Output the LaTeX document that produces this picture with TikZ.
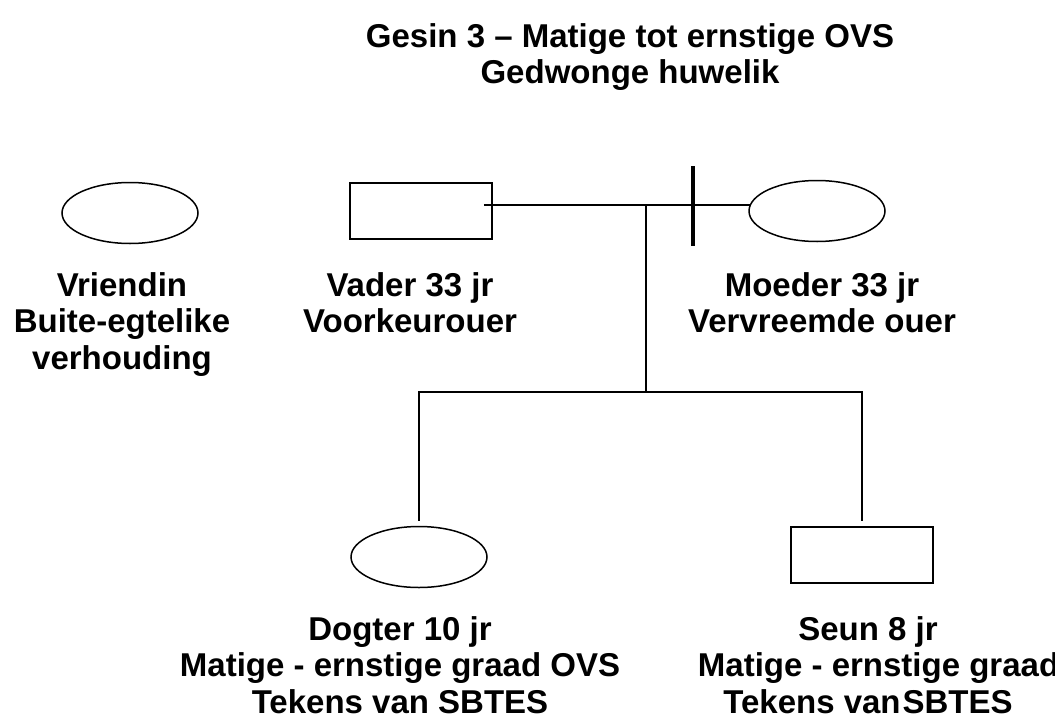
\documentclass[tikz,border=0pt]{standalone}
\usepackage{fontspec}
\setmainfont{Liberation Sans}
\usetikzlibrary{positioning,shapes.geometric}

\begin{document}
\begin{tikzpicture}[
  x=1pt, y=-1pt,
  every node/.style={font=\bfseries\fontsize{33}{36.5}\selectfont, align=center, inner sep=0pt},
  female/.style={draw, line width=1.5pt, ellipse, minimum width=136pt, minimum height=61pt},
  male/.style={draw, line width=1.5pt, rectangle, minimum width=142pt, minimum height=56pt},
  tie/.style={draw, line width=1.5pt},
  split/.style={draw, line width=4pt}
]
\clip (0,0) rectangle (1055,720);
\node[anchor=north] (title) at (630,23)
  {Gesin 3 – Matige tot ernstige OVS\\Gedwonge huwelik};
\node[female] (vriendin) at (130,213) {};
\node[male] (vader) at (421,211) {};
\node[female] (moeder) at (817,211) {};
\node[female] (dogter) at (419,557) {};
\node[male] (seun) at (862,555) {};
\node[anchor=north] (vriendinlbl) at (122,272) {Vriendin\\Buite-egtelike\\verhouding};
\node[anchor=north] (vaderlbl) at (410,272) {Vader 33 jr\\Voorkeurouer};
\node[anchor=north] (moederlbl) at (822,272) {Moeder 33 jr\\Vervreemde ouer};
\node[anchor=north] (dogterlbl) at (400,616)
  {Dogter 10 jr\\Matige - ernstige graad OVS\\Tekens van SBTES};
\node[anchor=north] (seunlbl) at (868,616)
  {Seun 8 jr\\\hspace*{100pt}Matige - ernstige graad OVS\\Tekens van\kern2pt SBTES};
\coordinate (kids) at (646,205);
\coordinate (sib) at (646,392);
\coordinate (cut) at (693,205);
\draw[tie] ([xshift=-9pt,yshift=6pt]vader.east) -- ([xshift=2.5pt,yshift=6pt]moeder.west);
\draw[split] ([yshift=39pt]cut) -- ([yshift=-41pt]cut);
\draw[tie] (kids) -- (sib);
\draw[tie] ([yshift=5pt]dogter.north) |- (sib) -| ([yshift=5pt]seun.north);
\end{tikzpicture}
\end{document}
